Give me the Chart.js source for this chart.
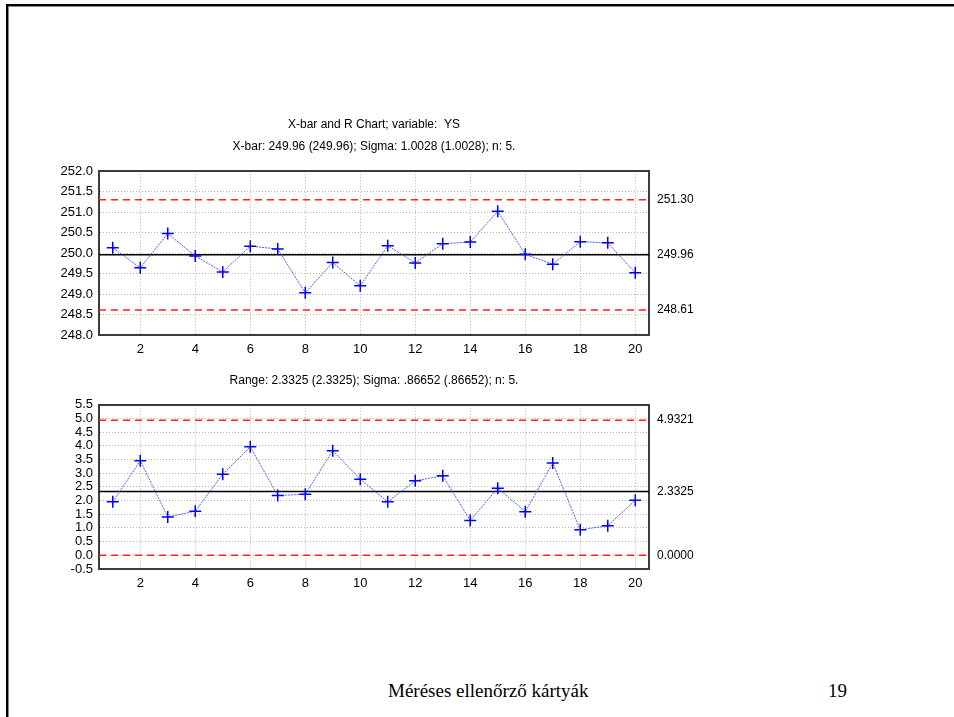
<!DOCTYPE html>
<html>
<head>
<meta charset="utf-8">
<script src="https://cdn.jsdelivr.net/npm/chart.js@4"></script>
<style>
    html, body { margin: 0; padding: 0; background: #fff; }
    body { width: 954px; height: 717px; position: relative; overflow: hidden; }
    .frame { position: absolute; left: 6px; top: 4px; right: -10px; bottom: -10px;
             border-top: 2px solid #000; border-left: 2px solid #000;
             box-shadow: inset 1px 1px 0 #888; }
    canvas { position: absolute; left: 0; }
    #xbar-chart { top: 100px; }
    #range-chart { top: 360px; }
    .footer { position: absolute; top: 681px; font: 19px "Liberation Serif", "Times New Roman", serif;
              line-height: 1; color: #000; }
</style>
</head>
<body>
<div class="frame"></div>
<canvas id="xbar-chart" width="748" height="265"></canvas>
<canvas id="range-chart" width="748" height="239"></canvas>
<div class="footer" style="left: 388px;">Méréses ellenőrző kártyák</div>
<div class="footer" style="left: 828px;">19</div>
<script>
// sample numbers
const samples = [1, 2, 3, 4, 5, 6, 7, 8, 9, 10, 11, 12, 13, 14, 15, 16, 17, 18, 19, 20];
const xTicks = [2, 4, 6, 8, 10, 12, 14, 16, 18, 20];

// X-bar chart
const xbarValues = [250.13, 249.64, 250.48, 249.93, 249.54, 250.17, 250.10, 249.03, 249.77, 249.20,
    250.18, 249.76, 250.23, 250.27, 251.02, 249.97, 249.73, 250.28, 250.25, 249.52];
const xbarLimits = [251.30, 249.96, 248.61]; // UCL, center, LCL
const xbarLimitLabels = ['251.30', '249.96', '248.61'];

// Range chart
const rangeValues = [1.95, 3.45, 1.40, 1.61, 2.96, 3.96, 2.18, 2.23, 3.82, 2.78,
    1.95, 2.72, 2.90, 1.27, 2.45, 1.59, 3.37, 0.93, 1.08, 2.01];
const rangeLimits = [4.9321, 2.3325, 0.0];
const rangeLimitLabels = ['4.9321', '2.3325', '0.0000'];

const FONT = '"Liberation Sans", Arial, sans-serif';
const X_MIN = 0.5;
const X_MAX = 20.5;

const toPoints = (values) => samples.map((x, i) => ({ x, y: values[i] }));
const hLine = (y) => [{ x: X_MIN, y }, { x: X_MAX, y }];

const limitDataset = (y, color, dash) => ({
    data: hLine(y),
    borderColor: color,
    borderWidth: 1.5,
    borderDash: dash,
    pointRadius: 0,
});

const buildChart = (canvasId, cfg) => {
    const canvas = document.getElementById(canvasId);
    return new Chart(canvas.getContext('2d'), {
        type: 'line',
        data: {
            datasets: [
                {
                    data: toPoints(cfg.values),
                    borderColor: 'rgba(70, 70, 255, 0.9)',
                    borderWidth: 1,
                    borderDash: [2, 1],
                    pointStyle: 'cross',
                    pointRadius: 6,
                    pointBorderColor: '#0000ff',
                    pointBorderWidth: 1.5,
                    tension: 0,
                },
                limitDataset(cfg.limits[0], '#ff2020', [7, 5]),
                limitDataset(cfg.limits[1], '#000000', []),
                limitDataset(cfg.limits[2], '#ff2020', [7, 5]),
            ],
        },
        options: {
            responsive: false,
            animation: false,
            events: [],
            layout: { padding: 0 },
            plugins: {
                legend: { display: false },
                tooltip: { enabled: false },
                title: {
                    display: true,
                    text: cfg.title,
                    color: '#000',
                    font: { family: FONT, size: 12, weight: 'normal', lineHeight: 1.8 },
                    padding: cfg.titlePadding,
                },
            },
            scales: {
                x: {
                    type: 'linear',
                    position: 'bottom',
                    min: X_MIN,
                    max: X_MAX,
                    afterBuildTicks: (scale) => { scale.ticks = xTicks.map((value) => ({ value })); },
                    afterFit: (scale) => { scale.height = 30; },
                    ticks: { color: '#000', font: { family: FONT, size: 13 }, padding: 7,
                             maxRotation: 0, autoSkip: false },
                    grid: { color: '#b4b4b4', lineWidth: 1, drawTicks: false },
                    border: { display: true, color: '#3c3c3c', width: 2, dash: [1, 2] },
                },
                xTop: {
                    axis: 'x',
                    type: 'linear',
                    position: 'top',
                    min: X_MIN,
                    max: X_MAX,
                    afterFit: (scale) => { scale.height = 0; },
                    ticks: { display: false },
                    grid: { display: false, drawTicks: false },
                    border: { display: true, color: '#3c3c3c', width: 2 },
                },
                y: {
                    type: 'linear',
                    position: 'left',
                    min: cfg.yMin,
                    max: cfg.yMax,
                    afterFit: (scale) => { scale.width = 99; },
                    ticks: { stepSize: 0.5, autoSkip: false, color: '#000',
                             font: { family: FONT, size: 13, lineHeight: 1 }, padding: 6,
                             callback: (v) => Number(v).toFixed(1) },
                    grid: { color: '#b4b4b4', lineWidth: 1, drawTicks: false },
                    border: { display: true, color: '#3c3c3c', width: 2, dash: [1, 2] },
                },
                yRight: {
                    axis: 'y',
                    type: 'linear',
                    position: 'right',
                    min: cfg.yMin,
                    max: cfg.yMax,
                    afterFit: (scale) => { scale.width = 99; },
                    afterBuildTicks: (scale) => { scale.ticks = cfg.limits.map((value) => ({ value })); },
                    ticks: { autoSkip: false, color: '#000', font: { family: FONT, size: 12 }, padding: 8,
                             callback: (v, i) => cfg.limitLabels[i] },
                    grid: { display: false, drawTicks: false },
                    border: { display: true, color: '#3c3c3c', width: 2 },
                },
            },
        },
    });
};

buildChart('xbar-chart', {
    values: xbarValues,
    limits: xbarLimits,
    limitLabels: xbarLimitLabels,
    yMin: 248,
    yMax: 252,
    title: ['X-bar and R Chart; variable:  YS', 'X-bar: 249.96 (249.96); Sigma: 1.0028 (1.0028); n: 5.'],
    titlePadding: { top: 14, bottom: 14 },
});

buildChart('range-chart', {
    values: rangeValues,
    limits: rangeLimits,
    limitLabels: rangeLimitLabels,
    yMin: -0.5,
    yMax: 5.5,
    title: 'Range: 2.3325 (2.3325); Sigma: .86652 (.86652); n: 5.',
    titlePadding: { top: 10, bottom: 13 },
});
</script>
</body>
</html>
